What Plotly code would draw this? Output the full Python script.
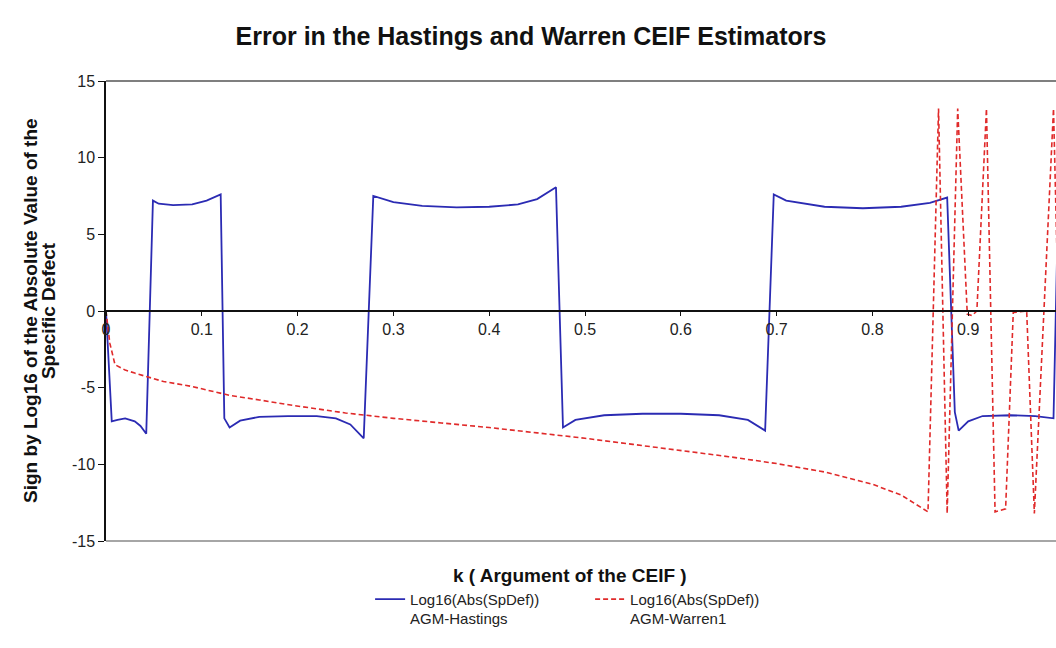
import plotly.graph_objects as go

# ---- data ----
k_hastings = [0, 0.006, 0.012, 0.02, 0.03, 0.036, 0.042, 0.049, 0.055, 0.07, 0.09, 0.105, 0.1197,
              0.1235, 0.129, 0.14, 0.16, 0.19, 0.22, 0.24, 0.255, 0.269,
              0.279, 0.30, 0.33, 0.366, 0.40, 0.43, 0.45, 0.4697,
              0.477, 0.49, 0.52, 0.56, 0.60, 0.64, 0.67, 0.688,
              0.697, 0.71, 0.75, 0.79, 0.83, 0.86, 0.878,
              0.886, 0.89, 0.90, 0.915, 0.944, 0.97, 0.989, 0.994]
err_hastings = [0, -7.2, -7.1, -7.0, -7.2, -7.5, -8.0, 7.2, 7.0, 6.9, 6.95, 7.2, 7.6,
                -7.0, -7.6, -7.15, -6.9, -6.85, -6.85, -7.0, -7.4, -8.3,
                7.5, 7.1, 6.85, 6.76, 6.8, 6.95, 7.3, 8.07,
                -7.6, -7.1, -6.8, -6.7, -6.7, -6.8, -7.1, -7.8,
                7.6, 7.2, 6.8, 6.7, 6.8, 7.05, 7.4,
                -6.6, -7.8, -7.2, -6.85, -6.8, -6.85, -7.0, 7.3]

k_warren = [0, 0.004, 0.0094, 0.02, 0.03, 0.0425, 0.06, 0.088, 0.129, 0.16, 0.189, 0.25, 0.3,
            0.35, 0.4, 0.45, 0.5, 0.55, 0.6, 0.65, 0.7, 0.75, 0.8, 0.83, 0.858,
            0.869, 0.878, 0.889, 0.899, 0.904, 0.909, 0.919, 0.928, 0.939, 0.947,
            0.961, 0.969, 0.989, 0.999]
err_warren = [0, -2.1, -3.5, -3.85, -4.05, -4.3, -4.6, -4.9, -5.5, -5.8, -6.1, -6.65, -7.0,
              -7.3, -7.6, -7.95, -8.3, -8.7, -9.1, -9.5, -9.95, -10.5, -11.3, -12.0, -13.1,
              13.2, -13.2, 13.2, -0.2, -0.3, 0.0, 13.2, -13.1, -12.9, -0.1,
              0.0, -13.2, 13.2, -13.0]

x_ticks = [0, 0.1, 0.2, 0.3, 0.4, 0.5, 0.6, 0.7, 0.8, 0.9]
x_tick_labels = ["0", "0.1", "0.2", "0.3", "0.4", "0.5", "0.6", "0.7", "0.8", "0.9"]
y_ticks = [-15, -10, -5, 0, 5, 10, 15]
y_tick_labels = ["-15", "-10", "-5", "0", "5", "10", "15"]

series_names = ["Log16(Abs(SpDef))<br>AGM-Hastings", "Log16(Abs(SpDef))<br>AGM-Warren1"]
title_text = "Error in the Hastings and Warren CEIF Estimators"
x_title = "k ( Argument of the CEIF )"
y_title_lines = ["Sign by Log16 of the Absolute Value of the", "Specific Defect"]

FONT = "Liberation Sans, Arial, sans-serif"

fig = go.Figure()
fig.add_trace(go.Scatter(x=k_hastings, y=err_hastings, mode="lines", name=series_names[0],
                         line=dict(color="#2b2bb3", width=1.8)))
fig.add_trace(go.Scatter(x=k_warren, y=err_warren, mode="lines", name=series_names[1],
                         line=dict(color="#e02a2a", width=1.6, dash="5px,3px")))

fig.update_layout(
    width=1056, height=648,
    margin=dict(l=106, r=0, t=81, b=107),
    paper_bgcolor="white", plot_bgcolor="white",
    font=dict(family=FONT, size=15, color="#222"),
    title=dict(text="<b>" + title_text + "</b>",
               x=531 / 1056, xanchor="center", y=1 - 36 / 648, yanchor="middle",
               font=dict(size=25, color="#111")),
    showlegend=True,
    legend=dict(orientation="h", x=0.278, xanchor="left", y=-0.091, yanchor="top",
                valign="top", font=dict(size=15, color="#222"),
                entrywidth=175, entrywidthmode="pixels",
                bgcolor="rgba(0,0,0,0)", traceorder="normal"),
    xaxis=dict(range=[0, 0.9916], tickvals=x_ticks, ticktext=x_tick_labels,
               anchor="free", position=0.5, showline=True, linecolor="#111", linewidth=1.5,
               ticks="outside", ticklen=4, tickcolor="#111", showgrid=False, zeroline=False,
               tickfont=dict(size=16, color="#222")),
    yaxis=dict(range=[-15, 15], tickvals=y_ticks, ticktext=y_tick_labels,
               showline=True, linecolor="#111", linewidth=1.5,
               ticks="outside", ticklen=6, tickcolor="#111", showgrid=False, zeroline=False,
               tickfont=dict(size=16, color="#222")),
    annotations=[
        dict(text="<b>" + x_title + "</b>", xref="paper", yref="paper",
             x=0.488, y=-0.076, xanchor="center", yanchor="middle", showarrow=False,
             font=dict(size=19, color="#111")),
        dict(text="<b>" + y_title_lines[0] + "</b>",
             xref="paper", yref="paper", x=-0.080, y=0.5, xanchor="center", yanchor="middle",
             textangle=-90, showarrow=False, font=dict(size=19, color="#111")),
        dict(text="<b>" + y_title_lines[1] + "</b>",
             xref="paper", yref="paper", x=-0.061, y=0.5, xanchor="center", yanchor="middle",
             textangle=-90, showarrow=False, font=dict(size=19, color="#111")),
    ],
    shapes=[
        dict(type="line", xref="paper", yref="paper", x0=0, x1=1, y0=1, y1=1,
             line=dict(color="#555", width=1.5)),
        dict(type="line", xref="paper", yref="paper", x0=0, x1=1, y0=0, y1=0,
             line=dict(color="#888", width=1.5)),
    ],
)

fig.write_html("out.html", config={"displayModeBar": False},
               post_script="document.body.style.margin='0px';document.body.style.overflow='hidden';")
